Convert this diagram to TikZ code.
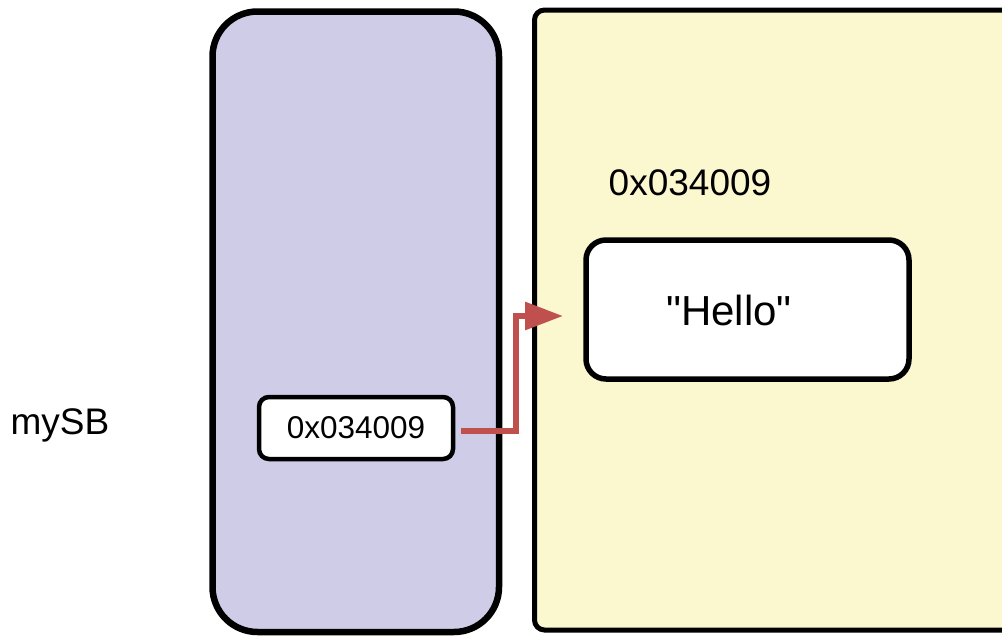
\documentclass[tikz,border=0pt]{standalone}
\usepackage{fontspec}
\setmainfont{Liberation Sans}
% same face without the TeX quote mapping, for straight double quotes
\newfontfamily\plainquotes{Liberation Sans}
\usetikzlibrary{arrows.meta}
\definecolor{stackfill}{HTML}{CFCCE8}
\definecolor{heapfill}{HTML}{FBF7CE}
\definecolor{ptrred}{HTML}{C0504D}
\tikzset{
  region/.style={draw=black, rounded corners=#1, inner sep=0pt, outer sep=0pt},
  cell/.style={draw=black, fill=white, rounded corners=#1, inner sep=0pt, outer sep=0pt},
  label/.style={inner sep=0pt, font=\fontsize{37}{40}\selectfont},
  pointer/.style={draw=ptrred, line width=6pt, -{Triangle[length=38pt, width=27pt]}}
}
\begin{document}
\begin{tikzpicture}[x=1pt, y=-1pt]
  \useasboundingbox (0,0) rectangle (1002,635);
  \clip (0,0) rectangle (1002,635);
  % stack frame and heap area
  \node[region=45pt, fill=stackfill, line width=6.5pt, minimum width=286.5pt, minimum height=620.5pt] (stack) at (355.75,321.75) {};
  \node[region=10pt, fill=heapfill, line width=5pt, minimum width=520pt, minimum height=620pt] (heap) at (794.5,320) {};
  % reference variable and the object it points to
  \node[cell=10pt, line width=4.5pt, minimum width=194pt, minimum height=62pt] (ptr) at (356,428) {};
  \node[inner sep=0pt, font=\fontsize{31.5}{34}\selectfont] (ptrtext) at (ptr.center) {0x034009};
  \node[cell=20pt, line width=5.5pt, minimum width=323pt, minimum height=139pt] (obj) at (747.5,309.5) {};
  \node[inner sep=0pt, font=\plainquotes\fontsize{42}{46}\selectfont] (objtext) at (729,310) {"Hello"};
  \node[label] (addr) at (690,183) {0x034009};
  \node[label] (var) at (60,425) {mySB};
  % pointer arrow
  \coordinate (ptrstart) at ([xshift=8pt,yshift=-3pt]ptr.east);
  \coordinate (tip) at (563,316);
  \draw[pointer] (ptrstart) -| (516,316) -- (tip);
\end{tikzpicture}
\end{document}
